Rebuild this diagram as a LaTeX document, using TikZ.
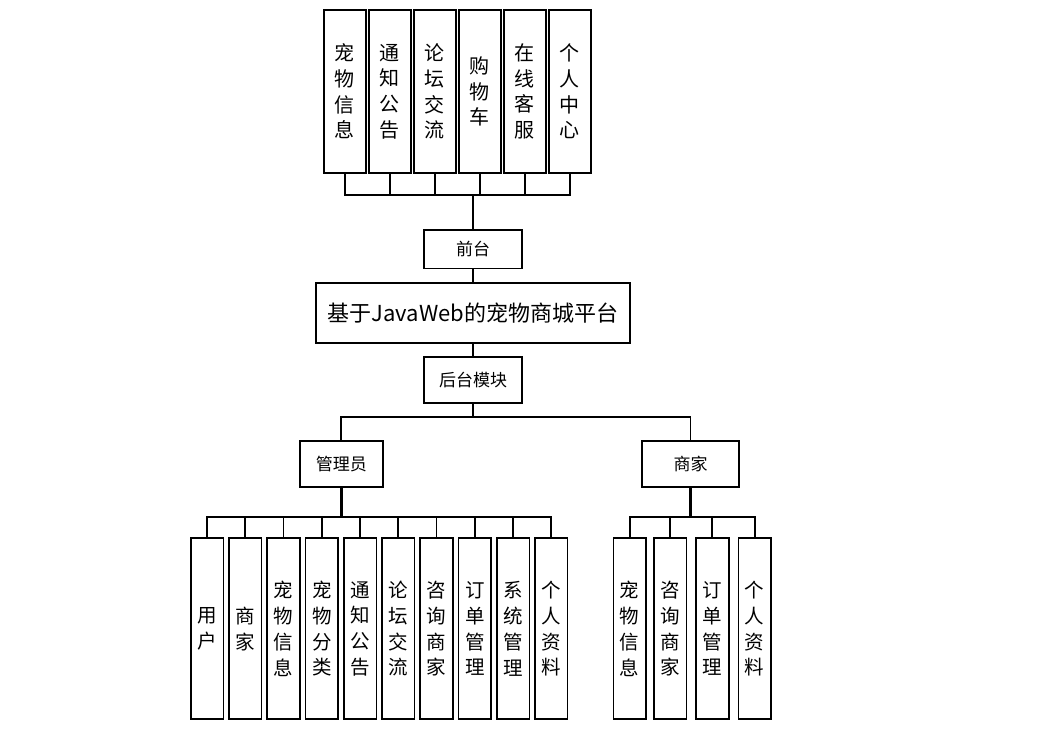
\documentclass[tikz,border=0pt]{standalone}
\usepackage{fontspec}
\newfontfamily\cjk{Noto Sans CJK SC}
\begin{document}
\begin{tikzpicture}[x=1pt, y=-1pt,
    box/.style={draw, line width=1.7pt, fill=white, inner sep=0pt, align=center, font=\cjk\fontsize{17}{20}\selectfont},
    topcol/.style={box, minimum width=42pt, minimum height=163pt, font=\cjk\fontsize{20}{25.7}\selectfont},
    botcol/.style={box, minimum width=32.7pt, minimum height=181pt, font=\cjk\fontsize{19.5}{25.7}\selectfont},
    link/.style={line width=1.7pt}]
    \useasboundingbox (0,0) rectangle (1042,734);

    % Front modules
    \node[topcol] (t1) at (344.7, 91.5) {宠\\物\\信\\息};
    \node[topcol] (t2) at (389.7, 91.5) {通\\知\\公\\告};
    \node[topcol] (t3) at (434.7, 91.5) {论\\坛\\交\\流};
    \node[topcol] (t4) at (479.7, 91.5) {购\\物\\车};
    \node[topcol] (t5) at (524.7, 91.5) {在\\线\\客\\服};
    \node[topcol] (t6) at (569.7, 91.5) {个\\人\\中\\心};

    % Middle column
    \node[box, minimum width=97.4pt, minimum height=38.3pt] (front) at (473, 249.2) {前台};
    \node[box, minimum width=314.3pt, minimum height=60.6pt, font=\cjk\fontsize{22}{24}\selectfont] (main) at (472.9, 313) {基于JavaWeb的宠物商城平台};
    \node[box, minimum width=97.4pt, minimum height=46pt] (back) at (473, 380.3) {后台模块};

    % Roles
    \node[box, minimum width=82.7pt, minimum height=46pt] (admin) at (341.3, 463.7) {管理员};
    \node[box, minimum width=97.6pt, minimum height=46pt] (shop) at (690.5, 463.7) {商家};

    % Admin modules
    \node[botcol] (a1) at (207, 628.8) {用\\户};
    \node[botcol] (a2) at (245.25, 628.8) {商\\家};
    \node[botcol] (a3) at (283.5, 628.8) {宠\\物\\信\\息};
    \node[botcol] (a4) at (321.75, 628.8) {宠\\物\\分\\类};
    \node[botcol] (a5) at (360, 628.8) {通\\知\\公\\告};
    \node[botcol] (a6) at (398.25, 628.8) {论\\坛\\交\\流};
    \node[botcol] (a7) at (436.5, 628.8) {咨\\询\\商\\家};
    \node[botcol] (a8) at (474.75, 628.8) {订\\单\\管\\理};
    \node[botcol] (a9) at (513, 628.8) {系\\统\\管\\理};
    \node[botcol] (a10) at (551.25, 628.8) {个\\人\\资\\料};

    % Shop modules
    \node[botcol] (s1) at (629.7, 628.8) {宠\\物\\信\\息};
    \node[botcol] (s2) at (670.2, 628.8) {咨\\询\\商\\家};
    \node[botcol] (s3) at (712.3, 628.8) {订\\单\\管\\理};
    \node[botcol] (s4) at (754.7, 628.8) {个\\人\\资\\料};

    % Bus points
    \coordinate (topbus) at (473, 195);
    \coordinate (midbus) at (473, 416.7);
    \coordinate (adminbus) at (341.3, 516.7);
    \coordinate (shopbus) at (690.5, 516.7);

    % Front links
    \draw[link] (t1.south) |- (topbus) -| (t6.south);
    \draw[link] (t2.south) -- (t2.south |- topbus);
    \draw[link] (t3.south) -- (t3.south |- topbus);
    \draw[link] (t4.south) -- (t4.south |- topbus);
    \draw[link] (t5.south) -- (t5.south |- topbus);
    \draw[link] (topbus) -- (front.north);
    \draw[link] (front.south) -- (main.north);
    \draw[link] (main.south) -- (back.north);

    % Back links
    \draw[link] (back.south) -- (midbus);
    \draw[link] (admin.north) |- (midbus) -| (shop.north);

    % Admin links
    \draw[link, line width=2.6pt] (admin.south) -- (adminbus);
    \draw[link] (a1.north) |- (adminbus) -| (a10.north);
    \draw[link] (a2.north) -- (a2.north |- adminbus);
    \draw[link] (a3.north) -- (a3.north |- adminbus);
    \draw[link] (a4.north) -- (a4.north |- adminbus);
    \draw[link] (a5.north) -- (a5.north |- adminbus);
    \draw[link] (a6.north) -- (a6.north |- adminbus);
    \draw[link] (a7.north) -- (a7.north |- adminbus);
    \draw[link] (a8.north) -- (a8.north |- adminbus);
    \draw[link] (a9.north) -- (a9.north |- adminbus);

    % Shop links
    \draw[link, line width=2.6pt] (shop.south) -- (shopbus);
    \draw[link] (s1.north) |- (shopbus) -| (s4.north);
    \draw[link] (s2.north) -- (s2.north |- shopbus);
    \draw[link] (s3.north) -- (s3.north |- shopbus);
\end{tikzpicture}
\end{document}
